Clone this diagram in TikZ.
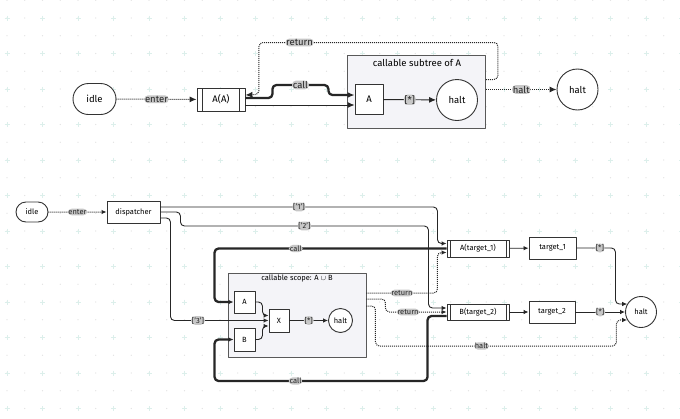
\documentclass[tikz,border=0pt]{standalone}
\usepackage{fontspec}
\setmainfont{Fira Sans}
\usetikzlibrary{arrows.meta,shapes.misc}
\definecolor{gridplus}{HTML}{DCEFEB}
\definecolor{scopefill}{HTML}{F4F4F8}

\begin{document}
\begin{tikzpicture}[x=1pt, y=-1pt, line join=round,
    box/.style={draw=black!80, fill=white, line width=0.9pt, inner sep=1pt},
    pill/.style={rounded rectangle, draw=black!80, fill=white, line width=0.9pt, inner sep=1pt},
    endst/.style={circle, draw=black!80, fill=white, line width=0.9pt, inner sep=0pt},
    callbox/.style={box, path picture={
        \draw[black!80, line width=0.7pt]
          ([xshift=#1]path picture bounding box.north west) -- ([xshift=#1]path picture bounding box.south west)
          ([xshift=-#1]path picture bounding box.north east) -- ([xshift=-#1]path picture bounding box.south east);}},
    callbox/.default=5pt,
    scopebox/.style={draw=black!65, fill=scopefill, line width=0.9pt},
    lbl/.style={fill=black!22, inner sep=0.8pt, text=black!85},
    flow/.style={draw=black!85, line width=0.9pt, rounded corners=4pt, ->},
    dotflow/.style={flow, line width=1pt, dash pattern=on 1pt off 1pt},
    callflow/.style={flow, line width=2.3pt}]
    \useasboundingbox (0,0) rectangle (680,418);

    % grille de fond
    \fill[white] (0,0) rectangle (680,418);
    \foreach \i in {-1,...,38}
      \foreach \j in {-1,...,23}
        \fill[black!12] (7+17.75*\i, 18+17.75*\j) circle (0.55pt);
    \foreach \i in {0,...,19}
      \foreach \j in {0,...,11}
        \draw[gridplus, line width=0.8pt] (7+35.5*\i-2.5, 18+35.5*\j) -- ++(5,0)
                                          (7+35.5*\i, 18+35.5*\j-2.5) -- ++(0,5);

    % ---------- haut : sous-arbre appelable de A ----------
    \begin{scope}[font=\fontsize{9.5}{11}\selectfont, >={Latex[length=7pt,width=6pt]}]
    \node[scopebox, minimum width=138pt, minimum height=73pt] (subT) at (416.5,91.5) {};
    \node (subTitle) at (417,63) {callable subtree of A};

    \node[pill, minimum width=45pt, minimum height=31pt] (idleT) at (94.5,99) {idle};
    \node[box, callbox=5.5pt, minimum width=48pt, minimum height=23pt] (aaT) at (221,99.5) {A(A)};
    \node[box, minimum width=28pt, minimum height=30pt] (aT) at (369,99.5) {A};
    \node[endst, minimum size=41pt] (haltT) at (457,100) {halt};
    \node[endst, minimum size=41pt] (haltOut) at (577.5,89.5) {halt};

    % entrée
    \draw[dotflow] (idleT) -- node[lbl] {enter} (aaT);
    % appel
    \draw[callflow] ([yshift=1.5pt]aaT.east) -- ++(27,0) -- ++(0,-13)
        -- node[lbl] {call} ++(56,0) -- ++(0,10) -- ([yshift=4.5pt]aT.west);
    \draw[flow] ([yshift=-5.5pt]aaT.east) -- ([yshift=-5.5pt]aT.west);
    \draw[flow] (aT) -- node[lbl] {[*]} (haltT);
    % retour
    \draw[dotflow] ([yshift=12pt]subT.east) -- ++(12,0) -- ++(0,-37)
        -- node[lbl, pos=0.83] {return} ++(-239,0) -- ++(0,52) -- ([yshift=4.5pt]aaT.east);
    % arrêt
    \draw[dotflow] ([yshift=2pt]subT.east) -- node[lbl] {halt} (haltOut);
    \end{scope}

    % ---------- bas : dispatcher et portée A ∪ B ----------
    \begin{scope}[font=\fontsize{7.5}{9}\selectfont, >={Latex[length=5pt,width=4.5pt]}]
    \node[scopebox, minimum width=138pt, minimum height=84pt] (scopeB) at (297,315) {};
    \node (scopeTitle) at (297,278.5) {callable scope: A \ensuremath{\cup} B};

    \node[pill, minimum width=34pt, minimum height=20pt] (idleB) at (32,212) {idle};
    \node[box, minimum width=53pt, minimum height=22pt] (disp) at (133.5,212) {dispatcher};
    \node[box, callbox=3pt, minimum width=62pt, minimum height=17pt] (at1) at (478,248.5) {A(target\_1)};
    \node[box, minimum width=47pt, minimum height=22pt] (t1) at (552.5,248) {target\_1};
    \node[box, callbox=3pt, minimum width=62pt, minimum height=16pt] (bt2) at (478,312) {B(target\_2)};
    \node[box, minimum width=46pt, minimum height=22pt] (t2) at (552,312) {target\_2};
    \node[endst, minimum size=31pt] (haltB) at (641,312) {halt};

    \node[box, minimum width=21pt, minimum height=22pt] (aS) at (244.5,302) {A};
    \node[box, minimum width=21pt, minimum height=23pt] (bS) at (244.5,339.5) {B};
    \node[box, minimum width=20pt, minimum height=23pt] (xS) at (279,320.5) {X};
    \node[endst, minimum size=24pt] (haltS) at (340.5,320.5) {halt};

    % entrée
    \draw[dotflow] (idleB) -- node[lbl] {enter} (disp);
    % choix du dispatcher
    \draw[flow] ([yshift=5pt]disp.east) -- node[lbl] {['1']} ++(277,0) |- ([yshift=5pt]at1.west);
    \draw[flow] (disp.east) -- ++(20,0) -- ++(0,14)
        -- node[lbl] {['2']} ++(248,0) |- ([yshift=4pt]bt2.west);
    \draw[flow] ([yshift=-6pt]disp.east) -- ++(10,0) -- ++(0,102.5)
        -- node[lbl, pos=0.28] {['3']} (xS.west);
    % dans la portée
    \draw[flow] (aS.east) -- ++(7,0) |- ([yshift=5pt]xS.west);
    \draw[flow] (bS.east) -- ++(7,0) |- ([yshift=-5.5pt]xS.west);
    \draw[flow] (xS) -- node[lbl] {[*]} (haltS);
    % appels
    \draw[callflow] (at1.west) -- node[lbl, pos=0.65] {call} ++(-232,0) |- (aS.west);
    \draw[callflow] ([yshift=-4pt]bt2.west) -- ++(-19,0) -- ++(0,65)
        -- node[lbl, pos=0.62] {call} ++(-213,0) |- (bS.west);
    % retours
    \draw[dotflow] ([yshift=22pt]scopeB.east) -- node[lbl] {return} ++(71,0) |- ([yshift=-4pt]at1.west);
    \draw[dotflow] ([yshift=16pt]scopeB.east) -- ++(19,0) -- ++(0,13)
        -- node[lbl, pos=0.37] {return} (bt2.west);
    \draw[dotflow] ([yshift=9pt]scopeB.east) -- ++(9,0) -- ++(0,40)
        -- node[lbl, pos=0.44] {halt} ++(241,0) |- (haltB.210);
    % cibles
    \draw[flow] (at1) -- (t1);
    \draw[flow] (bt2) -- (t2);
    \draw[flow] (t1.east) -- node[lbl, pos=0.6] {[*]} ++(39,0) |- (haltB.150);
    \draw[flow] (t2) -- node[lbl] {[*]} (haltB);
    \end{scope}
\end{tikzpicture}
\end{document}
